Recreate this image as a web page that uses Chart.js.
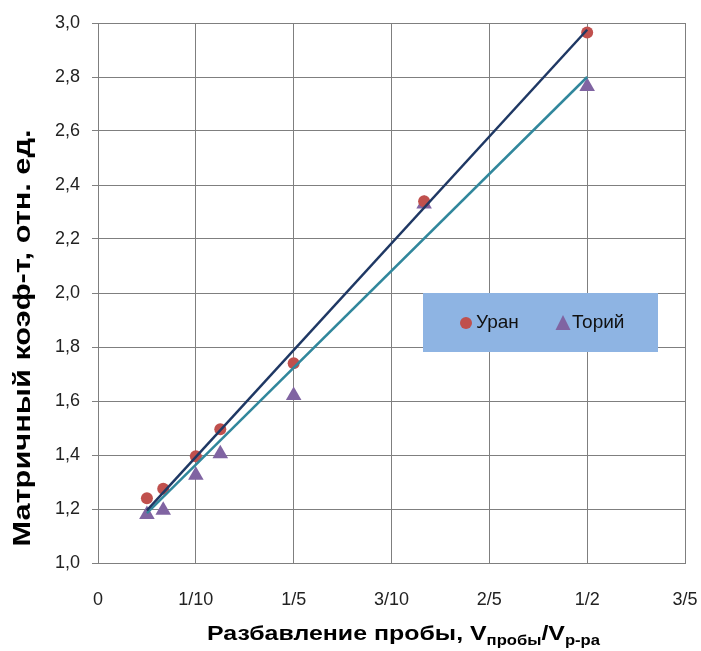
<!DOCTYPE html>
<html>
<head>
<meta charset="utf-8">
<script src="https://cdn.jsdelivr.net/npm/chart.js@4.4.0/dist/chart.umd.min.js"></script>
<style>
  html, body { margin: 0; padding: 0; background: #fff; }
  #wrap { width: 701px; height: 651px; position: relative; }
</style>
</head>
<body>
<div id="wrap"><canvas id="chart"></canvas></div>
<script>
// Data
const dilution = [1/20, 1/15, 1/10, 1/8, 1/5, 1/3, 1/2];
const uranium  = [1.24, 1.275, 1.395, 1.495, 1.74, 2.34, 2.965];
const thorium  = [1.18, 1.195, 1.325, 1.405, 1.62, 2.33, 2.765];
const trendX        = [0.05, 0.5];
const uraniumTrend  = [1.195, 2.975];
const thoriumTrend  = [1.185, 2.80];
const xTickLabels = ["0", "1/10", "1/5", "3/10", "2/5", "1/2", "3/5"];
const seriesNames = ["Уран", "Торий"];
const yTitle = "Матричный коэф-т, отн. ед.";
const xTitleParts = [
  { text: "Разбавление пробы, V", sub: false },
  { text: "пробы", sub: true },
  { text: "/V", sub: false },
  { text: "р-ра", sub: true }
];

const FONT = '"Liberation Sans", Arial, sans-serif';
const URAN_COLOR = "#c0504d";
const THOR_COLOR = "#8064a2";
const GRID = "#7f7f7f";

const toPoints = (xs, ys) => xs.map((x, i) => ({ x, y: ys[i] }));

// axis titles (with subscripts) and the boxed legend
const decorations = {
  id: "decorations",
  afterDraw(chart) {
    const ctx = chart.ctx;

    // y title, rotated and stretched to the reference length
    ctx.save();
    ctx.fillStyle = "#000";
    ctx.font = "bold 23px " + FONT;
    const yw = ctx.measureText(yTitle).width;
    ctx.translate(24, 338);
    ctx.rotate(-Math.PI / 2);
    ctx.scale(417 / yw, 1);
    ctx.textAlign = "center";
    ctx.textBaseline = "middle";
    ctx.fillText(yTitle, 0, 0);
    ctx.restore();

    // x title with subscripts
    ctx.save();
    ctx.fillStyle = "#000";
    ctx.textBaseline = "alphabetic";
    const big = "bold 21px " + FONT, small = "bold 14px " + FONT;
    let total = 0;
    xTitleParts.forEach(p => {
      ctx.font = p.sub ? small : big;
      total += ctx.measureText(p.text).width;
    });
    const sx = 393 / total;
    ctx.translate(207, 0);
    ctx.scale(sx, 1);
    let x = 0;
    xTitleParts.forEach(p => {
      ctx.font = p.sub ? small : big;
      ctx.fillText(p.text, x, p.sub ? 645 : 640);
      x += ctx.measureText(p.text).width;
    });
    ctx.restore();

    // legend box
    ctx.save();
    ctx.fillStyle = "#8eb4e3";
    ctx.fillRect(423, 293, 235, 59);
    ctx.fillStyle = URAN_COLOR;
    ctx.beginPath();
    ctx.arc(466, 323, 6, 0, Math.PI * 2);
    ctx.fill();
    ctx.fillStyle = THOR_COLOR;
    ctx.beginPath();
    ctx.moveTo(563, 315);
    ctx.lineTo(570.5, 330);
    ctx.lineTo(555.5, 330);
    ctx.closePath();
    ctx.fill();
    ctx.fillStyle = "#111";
    ctx.font = "19px " + FONT;
    ctx.textBaseline = "middle";
    ctx.fillText(seriesNames[0], 476, 323);
    ctx.fillText(seriesNames[1], 572, 323);
    ctx.restore();
  }
};

new Chart(document.getElementById("chart"), {
  data: {
    datasets: [
      {
        type: "line",
        label: seriesNames[0] + " trend",
        data: toPoints(trendX, uraniumTrend),
        borderColor: "#1f3864",
        borderWidth: 2.5,
        pointRadius: 0,
        fill: false,
        order: 0
      },
      {
        type: "line",
        label: seriesNames[1] + " trend",
        data: toPoints(trendX, thoriumTrend),
        borderColor: "#31879c",
        borderWidth: 2.5,
        pointRadius: 0,
        fill: false,
        order: 0
      },
      {
        type: "scatter",
        label: seriesNames[0],
        data: toPoints(dilution, uranium),
        pointStyle: "circle",
        pointRadius: 6,
        pointBorderWidth: 0,
        backgroundColor: URAN_COLOR,
        borderColor: URAN_COLOR,
        order: 1
      },
      {
        type: "scatter",
        label: seriesNames[1],
        data: toPoints(dilution, thorium),
        pointStyle: "triangle",
        pointRadius: 9,
        pointBorderWidth: 0,
        backgroundColor: THOR_COLOR,
        borderColor: THOR_COLOR,
        order: 1
      }
    ]
  },
  plugins: [decorations],
  options: {
    responsive: true,
    maintainAspectRatio: false,
    animation: false,
    layout: { padding: { top: 23, right: 16, left: 0, bottom: 0 } },
    plugins: {
      legend: { display: false },
      tooltip: { enabled: false }
    },
    scales: {
      x: {
        type: "linear",
        min: 0,
        max: 0.6,
        afterFit(scale) {
          scale.height = 88;
          scale.paddingLeft = 0;
          scale.paddingRight = 0;
        },
        grid: { color: GRID, lineWidth: 1, drawTicks: false },
        border: { color: GRID, width: 1 },
        ticks: {
          stepSize: 0.1,
          padding: 26,
          color: "#222",
          font: { size: 18, family: FONT },
          maxRotation: 0,
          callback: (v, i) => xTickLabels[i]
        }
      },
      y: {
        min: 1,
        max: 3,
        afterFit(scale) {
          scale.width = 98;
          scale.paddingTop = 0;
          scale.paddingBottom = 0;
        },
        grid: { color: GRID, lineWidth: 1, drawTicks: true, tickLength: 6 },
        border: { color: GRID, width: 1 },
        ticks: {
          stepSize: 0.2,
          padding: 12,
          color: "#222",
          font: { size: 18, family: FONT },
          callback: v => v.toFixed(1).replace(".", ",")
        }
      }
    }
  }
});
</script>
</body>
</html>
